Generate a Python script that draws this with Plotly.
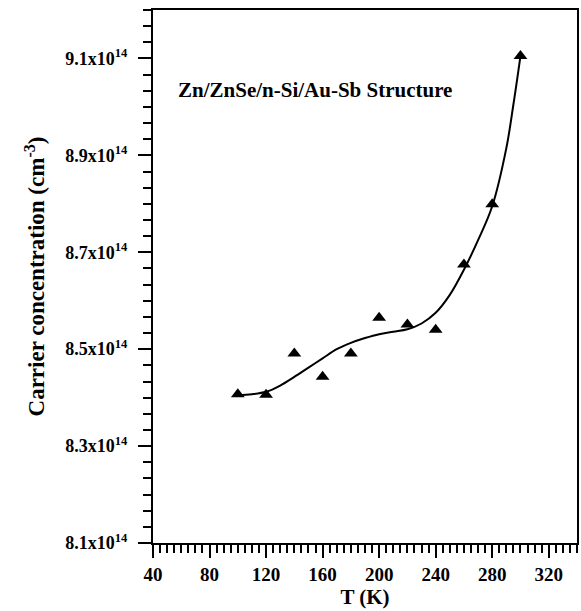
import numpy as np
import plotly.graph_objects as go

# Measured data points
T_data = [100, 120, 140, 160, 180, 200, 220, 240, 260, 280, 300]
N_data = [8.407, 8.406, 8.491, 8.443, 8.491, 8.565, 8.551, 8.540, 8.675, 8.799, 9.105]

# Fitted curve
T_fit = [100, 110, 120, 130, 140, 150, 160, 170, 180, 190, 200, 210, 220, 230, 240, 250, 260, 270, 280, 290, 295, 300]
N_fit = [8.405, 8.407, 8.412, 8.425, 8.443, 8.462, 8.481, 8.500, 8.513, 8.523, 8.531, 8.536, 8.541, 8.553, 8.575, 8.612, 8.664, 8.725, 8.795, 8.915, 9.005, 9.105]

y_tick_vals = [8.1, 8.3, 8.5, 8.7, 8.9, 9.1]
y_tick_text = ["8.1x10<sup>14</sup>", "8.3x10<sup>14</sup>", "8.5x10<sup>14</sup>",
               "8.7x10<sup>14</sup>", "8.9x10<sup>14</sup>", "9.1x10<sup>14</sup>"]
x_tick_vals = [40, 80, 120, 160, 200, 240, 280, 320]
x_tick_text = ["40", "80", "120", "160", "200", "240", "280", "320"]

FONT = "Liberation Serif"

fig = go.Figure()
fig.add_trace(go.Scatter(x=T_fit, y=N_fit, mode="lines",
                         line=dict(color="black", width=2, shape="spline", smoothing=1.0),
                         showlegend=False, hoverinfo="skip"))
fig.add_trace(go.Scatter(x=T_data, y=N_data, mode="markers",
                         marker=dict(symbol="triangle-up", size=12, color="black"), showlegend=False))

fig.add_annotation(text="Zn/ZnSe/n-Si/Au-Sb Structure", xref="paper", yref="paper",
                   x=0.055, y=0.85, xanchor="left", yanchor="middle", showarrow=False,
                   font=dict(family=FONT, size=21, color="black", weight="bold"))

fig.update_layout(
    width=581, height=611,
    margin=dict(l=153, r=2, t=10, b=68),
    paper_bgcolor="white", plot_bgcolor="white",
    font=dict(family=FONT, color="black"),
)
fig.update_xaxes(
    range=[40, 340], tickvals=x_tick_vals, ticktext=x_tick_text,
    ticks="outside", ticklen=13, tickwidth=2, tickcolor="black",
    showline=True, linecolor="black", linewidth=2, mirror=True, showgrid=False, zeroline=False,
    tickfont=dict(family=FONT, size=19, color="black", weight="bold"),
    title=dict(text="T (K)", font=dict(family=FONT, size=21, color="black", weight="bold"), standoff=0),
    minor=dict(dtick=5, ticks="outside", ticklen=8, tickwidth=1.5, tickcolor="black", showgrid=False),
)
fig.update_yaxes(
    range=[8.1, 9.2], tickvals=y_tick_vals, ticktext=y_tick_text,
    ticks="outside", ticklen=13, tickwidth=2, tickcolor="black", ticklabelstandoff=7,
    showline=True, linecolor="black", linewidth=2, mirror=True, showgrid=False, zeroline=False,
    tickfont=dict(family=FONT, size=18, color="black", weight="bold"),
    title=dict(text="Carrier concentration (cm<sup>-3</sup>)",
               font=dict(family=FONT, size=23, color="black", weight="bold"), standoff=14),
    minor=dict(tickvals=list(np.round(np.arange(8.1, 9.2001, 0.2 / 6), 4)), ticks="outside", ticklen=8,
               tickwidth=1.5, tickcolor="black", showgrid=False),
)

fig.write_html("out.html")
